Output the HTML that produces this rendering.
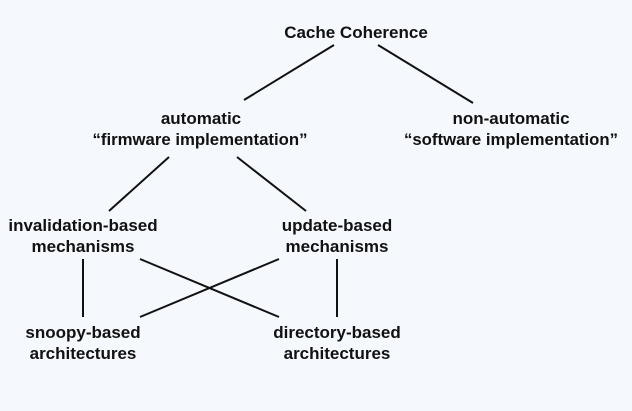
<!DOCTYPE html>
<html><head><style>
html,body{margin:0;padding:0;background:#f5f8fd;}
svg{display:block}
text{font-family:"Liberation Sans",Arial,sans-serif;font-weight:bold;font-size:17px;fill:#111;text-anchor:middle}
line{stroke:#111;stroke-width:2}
</style></head><body>
<svg width="632" height="411" viewBox="0 0 632 411">
<text x="356" y="38">Cache Coherence</text>
<line x1="334" y1="45" x2="244" y2="100"/>
<line x1="378" y1="45" x2="473" y2="103"/>
<text x="201" y="124">automatic</text>
<text x="200" y="145" textLength="215" lengthAdjust="spacingAndGlyphs">“firmware implementation”</text>
<text x="511" y="124">non-automatic</text>
<text x="511" y="145" textLength="214" lengthAdjust="spacingAndGlyphs">“software implementation”</text>
<line x1="169" y1="157" x2="109" y2="211"/>
<line x1="237" y1="157" x2="306" y2="211"/>
<text x="83" y="231">invalidation-based</text>
<text x="83" y="252">mechanisms</text>
<text x="337" y="231">update-based</text>
<text x="337" y="252">mechanisms</text>
<line x1="83" y1="259" x2="83" y2="317"/>
<line x1="337" y1="259" x2="337" y2="317"/>
<line x1="140" y1="259" x2="279" y2="317"/>
<line x1="279" y1="259" x2="140" y2="317"/>
<text x="83" y="338">snoopy-based</text>
<text x="83" y="359">architectures</text>
<text x="337" y="338">directory-based</text>
<text x="337" y="359">architectures</text>
</svg>
</body></html>
